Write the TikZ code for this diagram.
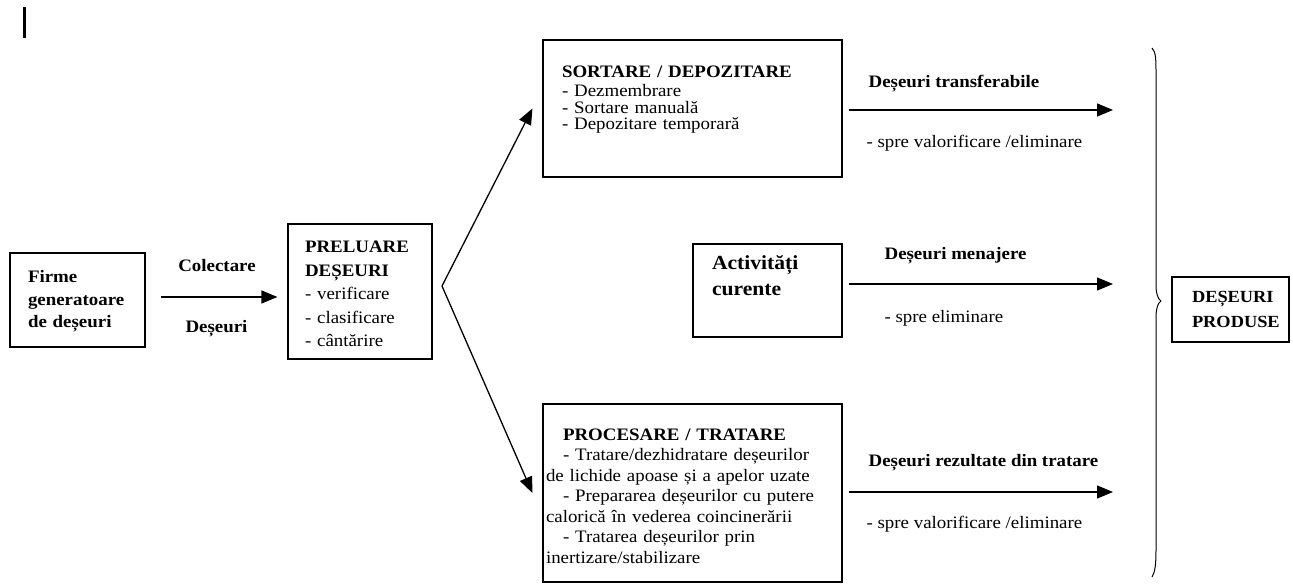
\documentclass[tikz,border=0pt]{standalone}
\usepackage{fontspec}
\setmainfont{Liberation Serif}[FakeStretch=1.08]
\usetikzlibrary{arrows.meta, positioning}

\newcommand{\txtfont}[2]{\fontsize{#1}{#2}\selectfont}

\begin{document}
\begin{tikzpicture}[x=1pt, y=-1pt, line width=1.2pt,
		box/.style={draw, align=left, inner ysep=0pt},
		lbl/.style={inner sep=0pt, anchor=base west, font=\txtfont{17.5}{20}},
		arr/.style={-{Triangle[length=16pt, width=13pt]}, line width=1.3pt}]

	\useasboundingbox (0,0) rectangle (1293,585);

	% Draw the mark at the top left
	\draw[line width=3pt] (24,7) -- (24,38);

	% Draw the boxes
	\node[box, minimum width=135pt, minimum height=94pt, inner xsep=18pt, text width=99pt,
		text height=30pt, text depth=64pt, font=\bfseries\txtfont{17.5}{22.5}] (firme) at (77.5,300)
		{Firme\\generatoare\\de deșeuri};

	\node[box, minimum width=144pt, minimum height=135pt, inner xsep=17pt, text width=110pt,
		text height=29pt, text depth=106pt, font=\txtfont{17.5}{23.5}] (prel) at (360,291.5)
		{\textbf{PRELUARE}\\\textbf{DEȘEURI}\\- verificare\\- clasificare\\- cântărire};

	\node[box, minimum width=299pt, minimum height=137pt, inner xsep=19pt, text width=261pt,
		text height=38pt, text depth=99pt, font=\txtfont{17.5}{16.8}] (sort) at (692.5,108.5)
		{\textbf{SORTARE / DEPOZITARE}\\[1.5pt]- Dezmembrare\\- Sortare manuală\\- Depozitare temporară};

	\node[box, minimum width=149pt, minimum height=93pt, inner xsep=19pt, text width=111pt,
		text height=26pt, text depth=67pt, font=\bfseries\txtfont{20}{26}] (act) at (767.5,290.5)
		{Activități\\curente};

	\node[box, minimum width=299pt, minimum height=178pt, inner xsep=3pt, text width=293pt,
		text height=36pt, text depth=142pt, font=\txtfont{17.5}{20.5}] (proc) at (692.5,493)
		{\hspace*{17pt}\textbf{PROCESARE / TRATARE}\\
		\hspace*{17pt}- Tratare/dezhidratare deșeurilor\\
		de lichide apoase și a apelor uzate\\
		\hspace*{17pt}- Prepararea deșeurilor cu putere\\
		calorică în vederea coincinerării\\
		\hspace*{17pt}- Tratarea deșeurilor prin\\
		inertizare/stabilizare};

	\node[box, minimum width=117pt, minimum height=65pt, inner xsep=4pt, text width=109pt,
		text height=25pt, text depth=40pt, font=\bfseries\txtfont{17}{25}] (prod) at (1230.5,309.5)
		{\hspace*{16pt}DEȘEURI\\\hspace*{16pt}PRODUSE};

	% Draw the collecting arrow
	\coordinate (coly) at (0,297);
	\draw[arr, shorten <=15pt, shorten >=10pt] (firme.east |- coly) -- (prel.west |- coly);
	\node[lbl, anchor=base, font=\bfseries\txtfont{17.5}{20}] (colect) at (217,272) {Colectare};
	\node[lbl, anchor=base, font=\bfseries\txtfont{17.5}{20}] (desc) at (216.5,332) {Deșeuri};

	% Draw the split towards sorting and processing
	\coordinate (split) at (442,286);
	\draw[arr] (split) -- ([xshift=-10pt]sort.west);
	\draw[arr] (split) -- ([xshift=-10pt]proc.west);

	% Draw the arrows to the brace
	\coordinate (end1) at (1113,110);
	\coordinate (end2) at (1113,284);
	\coordinate (end3) at (1113,492);
	\draw[arr, shorten <=6pt] (sort.east |- end1) -- (end1);
	\draw[arr, shorten <=6pt] (act.east |- end2) -- (end2);
	\draw[arr, shorten <=6pt] (proc.east |- end3) -- (end3);

	\node[lbl, font=\bfseries\txtfont{17.5}{20}] (transf) at (868,88) {Deșeuri transferabile};
	\node[lbl] (spre1) at (866,148) {- spre valorificare /eliminare};
	\node[lbl, font=\bfseries\txtfont{17.5}{20}] (menaj) at (884,260) {Deșeuri menajere};
	\node[lbl] (spre2) at (884,323) {- spre eliminare};
	\node[lbl, font=\bfseries\txtfont{17.5}{20}] (rezult) at (868,466) {Deșeuri rezultate din tratare};
	\node[lbl] (spre3) at (866,528) {- spre valorificare /eliminare};

	% Draw the brace
	\draw[line width=1pt] (1152,48) .. controls (1156,52) and (1156,60) .. (1156,75)
		-- (1156,285) .. controls (1156,294) and (1158,299) .. (1161,301)
		.. controls (1158,303) and (1156,308) .. (1156,317)
		-- (1156,550) .. controls (1156,565) and (1155,572) .. (1152,577);

\end{tikzpicture}
\end{document}
